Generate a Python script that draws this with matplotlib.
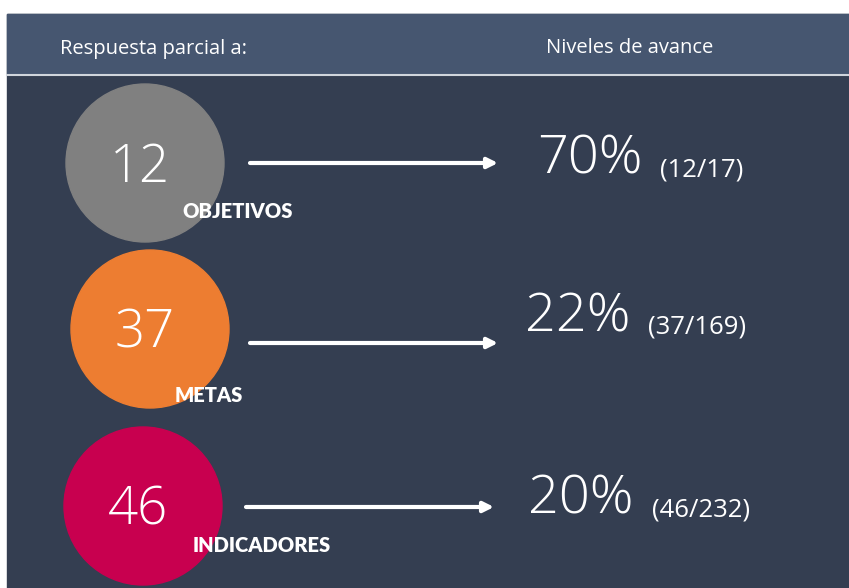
import matplotlib.pyplot as plt
from matplotlib.patches import Circle, Rectangle

# datos
categorias = ['OBJETIVOS', 'METAS', 'INDICADORES']
respuestas = [12, 37, 46]
totales = [17, 169, 232]
porcentajes = [70, 22, 20]
colores = ['#808080', '#ED7D31', '#C8004F']

# posiciones (pixeles)
centros = [(145, 163), (150, 329), (143, 506)]
radio = 79
label_pos = [(182, 212), (175, 396), (193, 545)]
flecha_y = [163, 343, 507]
flecha_x = [(250, 498), (250, 498), (246, 494)]
pct_pos = [(537, 160), (525, 318), (528, 500)]
frac_pos = [(660, 170), (648, 327), (652, 510)]

fig = plt.figure(figsize=(8.49, 5.88), dpi=100)
fig.patch.set_facecolor('white')
ax = fig.add_axes([0, 0, 1, 1])
ax.set_xlim(0, 849)
ax.set_ylim(588, 0)
ax.axis('off')

# fondo
ax.add_patch(Rectangle((7, 14), 842, 574, color='#343E51', zorder=0))
ax.add_patch(Rectangle((7, 14), 842, 60, color='#465670', zorder=1))
ax.plot([7, 849], [74.5, 74.5], color='#D0D5DC', lw=1.5, zorder=2)

fuente = ['Open Sans', 'DejaVu Sans']
ax.text(60, 49, 'Respuesta parcial a:', color='white', fontsize=14.5,
        family=fuente, va='center', ha='left')
ax.text(546, 48, 'Niveles de avance', color='white', fontsize=14.5,
        family=fuente, va='center', ha='left')

for i in range(len(categorias)):
    cx, cy = centros[i]
    ax.add_patch(Circle((cx, cy), radio, color=colores[i], zorder=3))
    ax.text(cx - 5, cy + 5, str(respuestas[i]), color='white', fontsize=38,
            family=fuente, weight='light', ha='center', va='center', zorder=4)
    lx, ly = label_pos[i]
    ax.text(lx, ly, categorias[i], color='white', fontsize=14.5,
            family=['Lato', 'DejaVu Sans'], weight='heavy', ha='left',
            va='center', zorder=5)
    x0, x1 = flecha_x[i]
    ax.annotate('', xy=(x1, flecha_y[i]), xytext=(x0, flecha_y[i]),
                arrowprops=dict(arrowstyle='-|>', color='white', lw=3,
                                mutation_scale=15, shrinkA=0, shrinkB=0),
                zorder=4)
    px, py = pct_pos[i]
    ax.text(px, py, f'{porcentajes[i]}%', color='white', fontsize=39,
            family=fuente, weight='light', ha='left', va='center')
    fx, fy = frac_pos[i]
    ax.text(fx, fy, f'({respuestas[i]}/{totales[i]})', color='white',
            fontsize=18.5, family=fuente, ha='left', va='center')

fig.savefig('out.png', dpi=100, facecolor=fig.get_facecolor())
